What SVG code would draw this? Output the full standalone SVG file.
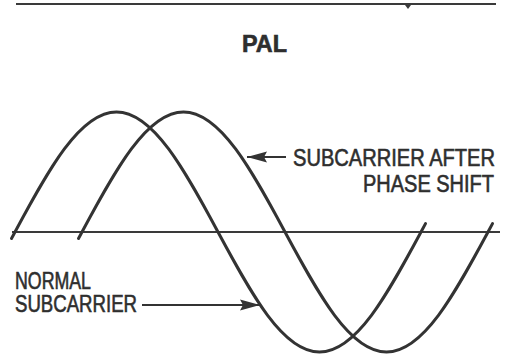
<svg xmlns="http://www.w3.org/2000/svg" width="508" height="359" viewBox="0 0 508 359">
  <style>
    .wave { fill: none; stroke: #333; stroke-width: 3; stroke-linecap: round; stroke-linejoin: round; }
    .rule { fill: none; stroke: #3a3a3a; stroke-width: 2.2; }
    .conn { fill: none; stroke: #333; stroke-width: 2; }
    .lbl { font-family: "Liberation Sans Narrow", "Liberation Sans", Arial, sans-serif; fill: #2e2e2e; stroke: #2e2e2e; stroke-width: 0.6; font-size: 23px; }
  </style>
  <defs>
    <marker id="ah" viewBox="0 0 20 12" refX="20" refY="6" markerWidth="20" markerHeight="12" markerUnits="userSpaceOnUse" orient="auto">
      <path d="M0,0.5 L20,6 L0,11.5 L3,6 Z" fill="#333"/>
    </marker>
  </defs>
  <rect width="508" height="359" fill="#fff"/>
  <g id="frame">
    <line class="rule" x1="16" y1="4" x2="496" y2="4"/>
    <path d="M405,5 L411,5 L408,9 Z" fill="#3a3a3a"/>
  </g>
  <g id="title">
    <text class="lbl" x="242" y="52" font-size="25" font-weight="bold" textLength="45" lengthAdjust="spacingAndGlyphs">PAL</text>
  </g>
  <g id="axis">
    <line class="rule" x1="12" y1="232" x2="500" y2="232"/>
  </g>
  <g id="normal-subcarrier">
    <path class="wave" d="M11.5,238.5 L15,232 C48.1,170.5 79.8,112 116.5,112 C153.2,112 184.9,170.5 218,232 C251.1,293.5 282.8,352 319.5,352 C356.2,352 387.9,293.5 421,232 L425.5,223.6"/>
    <text class="lbl" font-size="20" x="15" y="288.5" textLength="76" lengthAdjust="spacingAndGlyphs">NORMAL</text>
    <text class="lbl" font-size="20" x="15" y="311.5" textLength="122" lengthAdjust="spacingAndGlyphs">SUBCARRIER</text>
  </g>
  <g id="shifted-subcarrier">
    <path class="wave" d="M78.5,238.5 L82,232 C115.1,170.5 146.8,112 183.5,112 C220.2,112 251.9,170.5 285,232 C318.1,293.5 349.8,352 386.5,352 C423.2,352 454.9,293.5 488,232 L492.5,223.6"/>
    <text class="lbl" font-size="24" x="495" y="166" text-anchor="end" textLength="202" lengthAdjust="spacingAndGlyphs">SUBCARRIER AFTER</text>
    <text class="lbl" font-size="24" x="494" y="192" text-anchor="end" textLength="131" lengthAdjust="spacingAndGlyphs">PHASE SHIFT</text>
  </g>
  <g id="connectors">
    <line class="conn" x1="286" y1="157" x2="247" y2="157" marker-end="url(#ah)"/>
    <line class="conn" x1="142" y1="305" x2="260" y2="305" marker-end="url(#ah)"/>
  </g>
</svg>
